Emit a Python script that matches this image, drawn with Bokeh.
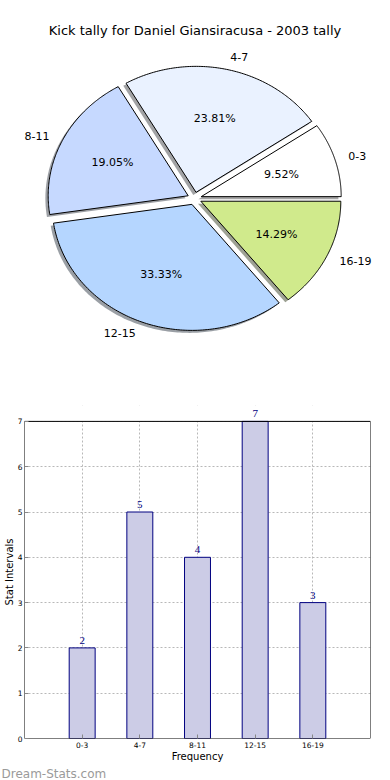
import numpy as np
from bokeh.plotting import figure
from bokeh.models import Range1d, Label, LabelSet, ColumnDataSource, FixedTicker, Title
from bokeh.embed import file_html
from bokeh.resources import INLINE

# ---------------- data ----------------
title_text = "Kick tally for Daniel Giansiracusa - 2003 tally"
categories = ["0-3", "4-7", "8-11", "12-15", "16-19"]
counts = [2, 5, 4, 7, 3]
pie_colors = ["#FFFFFF", "#EAF2FF", "#C6D9FF", "#B5D6FF", "#D0EA8C"]
y_ticks = [0, 1, 2, 3, 4, 5, 6, 7]
x_label = "Frequency"
y_label = "Stat Intervals"
watermark = "Dream-Stats.com"

FONT = "DejaVu Sans"
W = 390
H1 = 390
H2 = 390

# ---------------- pie ----------------
RX, RY = 140, 126          # pixel radii (pie drawn squashed)
PCX, PCY = 194, 198        # pie centre on the page
EXPLODE = 0.05
LABEL_DIST = 1.1
PCT_DIST = 0.6
SHADOW = (-0.02, -0.02)

pie = figure(width=W, height=H1, output_backend="svg", toolbar_location=None,
             x_range=Range1d(-PCX / RX, (W - PCX) / RX),
             y_range=Range1d(-(H1 - PCY) / RY, PCY / RY),
             x_axis_location=None, y_axis_location=None, min_border=0)
pie.grid.visible = False
pie.outline_line_color = None


def shade(hexcol, f=0.3):
    r, g, b = (int(hexcol[i:i + 2], 16) for i in (1, 3, 5))
    return "#%02x%02x%02x" % (int(r * f), int(g * f), int(b * f))


total = float(sum(counts))
cum = np.concatenate([[0.0], np.cumsum(counts) / total])
sl_x, sl_y, sh_x, sh_y, sh_c = [], [], [], [], []
lx, ly, lt, la = [], [], [], []
px, py, pt = [], [], []
for i, c in enumerate(categories):
    a0, a1 = 2 * np.pi * cum[i], 2 * np.pi * cum[i + 1]
    mid = 0.5 * (a0 + a1)
    ox, oy = EXPLODE * np.cos(mid), EXPLODE * np.sin(mid)
    t = np.linspace(a0, a1, 120)
    xx = np.concatenate([[ox], ox + np.cos(t), [ox]])
    yy = np.concatenate([[oy], oy + np.sin(t), [oy]])
    sl_x.append(xx)
    sl_y.append(yy)
    sh_x.append(xx + SHADOW[0])
    sh_y.append(yy + SHADOW[1])
    sh_c.append(shade(pie_colors[i]))
    tx = ox + LABEL_DIST * np.cos(mid)
    ty = oy + LABEL_DIST * np.sin(mid)
    lx.append(tx)
    ly.append(ty)
    lt.append(c)
    la.append("left" if tx > 0 else "right")
    px.append(ox + PCT_DIST * np.cos(mid))
    py.append(oy + PCT_DIST * np.sin(mid))
    pt.append("%.2f%%" % (100.0 * counts[i] / total))

pie.patches(sh_x, sh_y, fill_color=sh_c, fill_alpha=0.5, line_color=None)
pie.patches(sl_x, sl_y, fill_color=pie_colors, line_color="black", line_width=1)

lab_src = ColumnDataSource(dict(x=lx, y=ly, text=lt, align=la))
pie.text(x="x", y="y", text="text", text_align="align", text_baseline="middle",
         text_font_size="11px", text_color="black", text_font={"value": FONT},
         source=lab_src)
pct_src = ColumnDataSource(dict(x=px, y=py, text=pt))
pie.text(x="x", y="y", text="text", text_align="center", text_baseline="middle",
         text_font_size="11px", text_color="black", text_font={"value": FONT},
         source=pct_src)

# screen units are measured from the frame's bottom-left corner
pie.add_layout(Label(x=194.5, y=H1 - 30, x_units="screen", y_units="screen",
                     text=title_text, text_align="center", text_baseline="middle",
                     text_font=FONT, text_font_size="13px", text_color="black"))

# ---------------- bars ----------------
FL, FR = 19, 20            # left / right borders
BT, BB = 15, 40            # top / bottom borders of the bar chart
HEAD = 16                  # px of free space kept above the axes box for the value labels
plot_h = H2 - BT - BB
ymax = max(y_ticks)
y_end = ymax * plot_h / (plot_h - HEAD)
xpos = np.arange(1, len(categories) + 1)
x_end = len(categories) + 1

bar = figure(width=W, height=H2, output_backend="svg", toolbar_location=None,
             x_range=Range1d(0, x_end), y_range=Range1d(0, y_end),
             min_border_left=FL, min_border_right=FR, min_border_top=BT,
             min_border_bottom=BB)
bar.outline_line_color = None

bar.xaxis.ticker = FixedTicker(ticks=list(xpos))
bar.xaxis.major_label_overrides = {int(x): c for x, c in zip(xpos, categories)}
bar.yaxis.ticker = FixedTicker(ticks=y_ticks)
bar.xgrid.ticker = FixedTicker(ticks=list(xpos))
bar.ygrid.ticker = FixedTicker(ticks=y_ticks)
for g in (bar.xgrid, bar.ygrid):
    g.grid_line_color = "#b8b8b8"
    g.grid_line_dash = "2 2"
    g.grid_line_width = 1

# blank strip above the axes box (hides the grid there)
bar.quad(left=[0], right=[x_end], bottom=[ymax], top=[y_end], fill_color="white",
         line_color=None)

bar_src = ColumnDataSource(dict(x=xpos, top=counts, lab=[str(v) for v in counts]))
bar.vbar(x="x", top="top", width=0.45, fill_color="#CCCCE6", line_color="#000080",
         line_width=1, source=bar_src)
# axes box
bar.quad(left=[0], right=[x_end], bottom=[0], top=[ymax], fill_color=None,
         line_color="black", line_width=1)
bar.add_layout(LabelSet(x="x", y="top", text="lab", source=bar_src, y_offset=4,
                        text_align="center", text_baseline="bottom",
                        text_font=FONT, text_font_size="11px", text_color="#000080"))

for ax in (bar.xaxis, bar.yaxis):
    ax.major_tick_in = 4
    ax.major_tick_out = 0
    ax.minor_tick_line_color = None
    ax.major_tick_line_color = "#888888"
    ax.axis_line_color = None
    ax.major_label_text_font = FONT
    ax.major_label_text_font_size = "7.5px"
    ax.major_label_text_color = "black"
    ax.major_label_standoff = 2
    ax.axis_label_text_font = FONT
    ax.axis_label_text_font_size = "10px"
    ax.axis_label_text_font_style = "normal"
    ax.axis_label_text_color = "black"
    ax.axis_label_standoff = 0
bar.xaxis.major_label_standoff = 3
bar.xaxis.axis_label = x_label
bar.yaxis.axis_label = y_label

wm = Title(text=watermark, align="left", offset=-FL - 4, standoff=0,
           text_font=FONT, text_font_size="12px", text_font_style="normal",
           text_color="#9a9a9a")
bar.add_layout(wm, "below")

# two independent roots, stacked on the page (no frame alignment between them)
open("out.html", "w").write(file_html([pie, bar], INLINE))
